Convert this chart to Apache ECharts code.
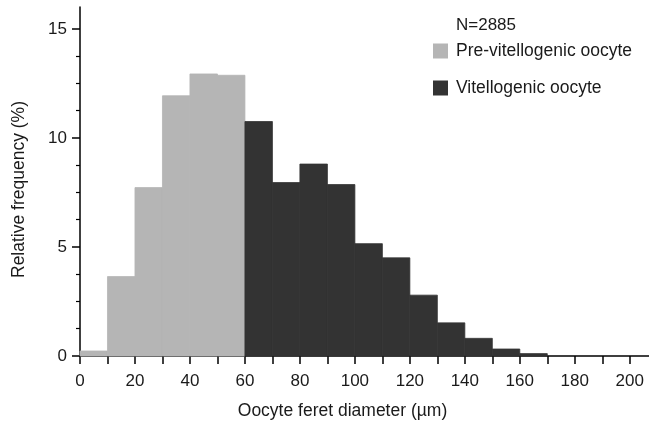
<!DOCTYPE html>
<html lang="en">
<head>
    <meta charset="UTF-8">
    <title>Oocyte feret diameter</title>
    <script src="https://cdn.jsdelivr.net/npm/echarts@6/dist/echarts.min.js"></script>
    <style>
        html, body { margin: 0; padding: 0; background: #fff; }
        #main { width: 649px; height: 422px; }
    </style>
</head>
<body>
<div id="main"></div>
<script type="text/javascript">
    // bin width 10 µm, bins start at these values
    var preStarts = [0, 10, 20, 30, 40, 50];
    var preValues = [0.23, 3.64, 7.72, 11.93, 12.93, 12.87];
    var vitStarts = [60, 70, 80, 90, 100, 110, 120, 130, 140, 150, 160];
    var vitValues = [10.75, 7.95, 8.80, 7.86, 5.15, 4.50, 2.79, 1.52, 0.81, 0.32, 0.11];
    var binWidth = 10;

    var xLabelValues = [0, 20, 40, 60, 80, 100, 120, 140, 160, 180, 200];
    var xTickValues = [0, 10, 20, 30, 40, 50, 60, 70, 80, 90, 100, 110, 120, 130, 140, 150, 160, 170, 180, 190, 200];
    var yLabelValues = [0, 5, 10, 15];
    var yMinorValues = [1.25, 2.5, 3.75, 6.25, 7.5, 8.75, 11.25, 12.5, 13.75];

    var font = 'Liberation Sans, Arial, sans-serif';
    var ink = '#1a1a1a';

    function toBins(starts, values) {
        return starts.map(function (s, i) {
            return [s, s + binWidth, values[i]];
        });
    }

    // draw each bin as a rectangle from its start to end
    function renderBin(params, api) {
        var p0 = api.coord([api.value(0), api.value(2)]);
        var p1 = api.coord([api.value(1), 0]);
        var c = api.visual('color');
        return {
            type: 'rect',
            shape: { x: p0[0], y: p0[1], width: p1[0] - p0[0], height: p1[1] - p0[1] },
            style: { fill: c, stroke: c, lineWidth: 0.8 }
        };
    }

    var myChart = echarts.init(document.getElementById('main'));

    var option = {
        animation: false,
        title: {
            text: 'N=2885',
            left: 456,
            top: 17,
            padding: 0,
            textStyle: { fontFamily: font, fontSize: 17, fontWeight: 'normal', color: ink }
        },
        legend: {
            orient: 'vertical',
            left: 433,
            top: 42,
            padding: 0,
            itemWidth: 15,
            itemHeight: 15,
            itemGap: 19,
            icon: 'rect',
            textStyle: { fontFamily: font, fontSize: 17.5, color: ink, padding: [0, 0, 0, 3] },
            data: ['Pre-vitellogenic oocyte', 'Vitellogenic oocyte']
        },
        grid: {
            left: 80,
            right: 0,
            top: 7,
            bottom: 66,
            containLabel: false,
            outerBoundsMode: 'none'
        },
        xAxis: {
            type: 'value',
            min: 0,
            max: 207,
            name: 'Oocyte feret diameter (µm)',
            nameLocation: 'middle',
            nameGap: 46,
            nameTextStyle: { fontFamily: font, fontSize: 17.5, color: ink, padding: [0, 44, 0, 0] },
            axisLine: { show: true, lineStyle: { color: '#000', width: 1.5 } },
            axisTick: { show: true, length: 8, inside: false, customValues: xTickValues, lineStyle: { color: '#000', width: 1.5 } },
            axisLabel: { fontFamily: font, fontSize: 17, color: ink, margin: 17, customValues: xLabelValues },
            splitLine: { show: false }
        },
        yAxis: [
            {
                type: 'value',
                min: 0,
                max: 16,
                name: 'Relative frequency (%)',
                nameLocation: 'middle',
                nameGap: 52,
                nameTextStyle: { fontFamily: font, fontSize: 17.5, color: ink, padding: [0, 0, 0, -16] },
                axisLine: { show: true, lineStyle: { color: '#000', width: 1.5 } },
                axisTick: { show: true, length: 8, customValues: yLabelValues, lineStyle: { color: '#000', width: 1.5 } },
                axisLabel: { fontFamily: font, fontSize: 17, color: ink, margin: 13, customValues: yLabelValues },
                splitLine: { show: false }
            },
            {
                type: 'value',
                min: 0,
                max: 16,
                position: 'left',
                axisLine: { show: false },
                axisTick: { show: true, length: 4, customValues: yMinorValues, lineStyle: { color: '#000', width: 1.2 } },
                axisLabel: { show: false },
                splitLine: { show: false }
            }
        ],
        series: [
            {
                name: 'Pre-vitellogenic oocyte',
                type: 'custom',
                renderItem: renderBin,
                itemStyle: { color: '#b5b5b5' },
                encode: { x: [0, 1], y: 2 },
                data: toBins(preStarts, preValues)
            },
            {
                name: 'Vitellogenic oocyte',
                type: 'custom',
                renderItem: renderBin,
                itemStyle: { color: '#333333' },
                encode: { x: [0, 1], y: 2 },
                data: toBins(vitStarts, vitValues)
            }
        ]
    };

    myChart.setOption(option);
</script>
</body>
</html>
